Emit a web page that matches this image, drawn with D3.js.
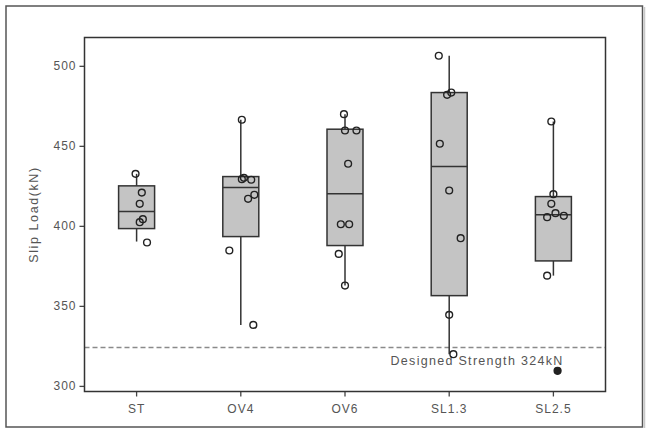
<!DOCTYPE html>
<html>
<head>
<meta charset="utf-8">
<script src="https://cdn.jsdelivr.net/npm/d3@7"></script>
<style>
  html, body { margin: 0; padding: 0; background: #fff; }
  svg { display: block; }
  text { font-family: "Liberation Sans", Arial, sans-serif; }
</style>
</head>
<body>
<svg id="chart" width="651" height="430"></svg>
<script>
// ---- data ----
const categories = ["ST", "OV4", "OV6", "SL1.3", "SL2.5"];
const q1Values     = [398.3, 393.3, 387.7, 356.4, 378.1];
const medianValues = [408.9, 423.9, 420.0, 437.1, 406.9];
const q3Values     = [425.0, 430.8, 460.4, 483.3, 418.3];
const whiskerLow   = [390.2, 338.1, 362.7, 319.8, 368.9];
const whiskerHigh  = [432.5, 466.3, 469.8, 506.3, 465.2];
const outlierCategory = ["SL2.5"];
const outlierValues   = [309.4];
// individual specimens (category, value, jitter as fraction of band width)
const pointCategory = [
  "ST","ST","ST","ST","ST","ST",
  "OV4","OV4","OV4","OV4","OV4","OV4","OV4","OV4",
  "OV6","OV6","OV6","OV6","OV6","OV6","OV6","OV6",
  "SL1.3","SL1.3","SL1.3","SL1.3","SL1.3","SL1.3","SL1.3","SL1.3",
  "SL2.5","SL2.5","SL2.5","SL2.5","SL2.5","SL2.5","SL2.5","SL2.5"
];
const pointValues = [
  432.5, 420.8, 413.8, 404.2, 402.3, 389.6,
  466.3, 430.0, 429.2, 428.8, 419.4, 416.9, 384.6, 338.1,
  469.8, 459.6, 459.6, 438.8, 401.0, 401.0, 382.5, 362.7,
  506.3, 483.3, 481.9, 451.3, 422.1, 392.3, 344.4, 319.8,
  465.2, 419.8, 413.8, 407.9, 406.3, 405.4, 368.9, 309.4
];
const pointJitter = [
  -0.01, 0.05, 0.03, 0.06, 0.03, 0.10,
  0.01, 0.03, 0.01, 0.10, 0.13, 0.07, -0.11, 0.12,
  -0.01, 0.00, 0.11, 0.03, -0.04, 0.04, -0.06, 0.00,
  -0.10, 0.02, -0.02, -0.09, 0.00, 0.11, 0.00, 0.04,
  -0.02, 0.00, -0.02, 0.02, 0.10, -0.06, -0.06, 0.04
];
const yTicks = [300, 350, 400, 450, 500];
const designStrength = 324;
const designLabel = "Designed Strength 324kN";
const yTitle = "Slip Load(kN)";

// ---- layout ----
const svg = d3.select("#chart");
const plot = { left: 84.5, right: 605.5, top: 37.5, bottom: 391.5 };

const x = d3.scaleBand().domain(categories).range([plot.left, plot.right]).padding(0);
const y = d3.scaleLinear().domain([296.5, 517.7]).range([plot.bottom, plot.top]);
const boxW = 36;
const cx = c => x(c) + x.bandwidth() / 2;

// outer frame
svg.append("rect").attr("x", 6).attr("y", 6).attr("width", 636.5).attr("height", 421)
  .attr("fill", "none").attr("stroke", "#555").attr("stroke-width", 1.5);
svg.append("line").attr("x1", 644.5).attr("x2", 644.5).attr("y1", 7).attr("y2", 428)
  .attr("stroke", "#c8c8c8").attr("stroke-width", 1.5);

// axes
const textColor = "#555";
const yAxis = svg.append("g").attr("transform", `translate(${plot.left},0)`)
  .call(d3.axisLeft(y).tickValues(yTicks).tickSize(5).tickPadding(3));
const xAxis = svg.append("g").attr("transform", `translate(0,${plot.bottom})`)
  .call(d3.axisBottom(x).tickSize(5).tickPadding(8));
[yAxis, xAxis].forEach(g => {
  g.select(".domain").remove();
  g.selectAll(".tick line").attr("stroke", "#444").attr("stroke-width", 1.3);
  g.selectAll(".tick text").attr("fill", textColor).attr("font-size", 12)
    .attr("letter-spacing", "1px").attr("font-family", "'Liberation Sans', Arial, sans-serif");
});

// y title
svg.append("text")
  .attr("transform", `translate(38,${(plot.top + plot.bottom) / 2}) rotate(-90)`)
  .attr("text-anchor", "middle").attr("fill", textColor)
  .attr("font-size", 12.5).attr("letter-spacing", "1.6px")
  .text(yTitle);

// design strength line
svg.append("line")
  .attr("x1", plot.left).attr("x2", plot.right)
  .attr("y1", y(designStrength)).attr("y2", y(designStrength))
  .attr("stroke", "#8a8a8a").attr("stroke-width", 1.5).attr("stroke-dasharray", "5,3");
svg.append("text")
  .attr("x", 390.5).attr("y", y(designStrength) + 18)
  .attr("fill", textColor).attr("font-size", 12.5).attr("letter-spacing", "1.3px")
  .text(designLabel);

// boxes
const boxes = svg.append("g");
categories.forEach((c, i) => {
  const g = boxes.append("g");
  g.append("line").attr("x1", cx(c)).attr("x2", cx(c))
    .attr("y1", y(whiskerHigh[i])).attr("y2", y(q3Values[i]))
    .attr("stroke", "#333").attr("stroke-width", 1.5);
  g.append("line").attr("x1", cx(c)).attr("x2", cx(c))
    .attr("y1", y(q1Values[i])).attr("y2", y(whiskerLow[i]))
    .attr("stroke", "#333").attr("stroke-width", 1.5);
  g.append("rect").attr("x", cx(c) - boxW / 2).attr("width", boxW)
    .attr("y", y(q3Values[i])).attr("height", y(q1Values[i]) - y(q3Values[i]))
    .attr("fill", "#c4c4c4").attr("stroke", "#333").attr("stroke-width", 1.5);
  g.append("line").attr("x1", cx(c) - boxW / 2).attr("x2", cx(c) + boxW / 2)
    .attr("y1", y(medianValues[i])).attr("y2", y(medianValues[i]))
    .attr("stroke", "#333").attr("stroke-width", 1.5);
});

// outliers (filled)
svg.append("g").selectAll("circle").data(outlierValues).join("circle")
  .attr("cx", (d, i) => cx(outlierCategory[i]) + 0.04 * x.bandwidth())
  .attr("cy", d => y(d)).attr("r", 3.6).attr("fill", "#222");

// plot frame
svg.append("rect").attr("x", plot.left).attr("y", plot.top)
  .attr("width", plot.right - plot.left).attr("height", plot.bottom - plot.top)
  .attr("fill", "none").attr("stroke", "#333").attr("stroke-width", 1.5);

// jittered points
svg.append("g").selectAll("circle").data(pointValues).join("circle")
  .attr("cx", (d, i) => cx(pointCategory[i]) + pointJitter[i] * x.bandwidth())
  .attr("cy", d => y(d)).attr("r", 3.4)
  .attr("fill", "none").attr("stroke", "#222").attr("stroke-width", 1.4);
</script>
</body>
</html>
